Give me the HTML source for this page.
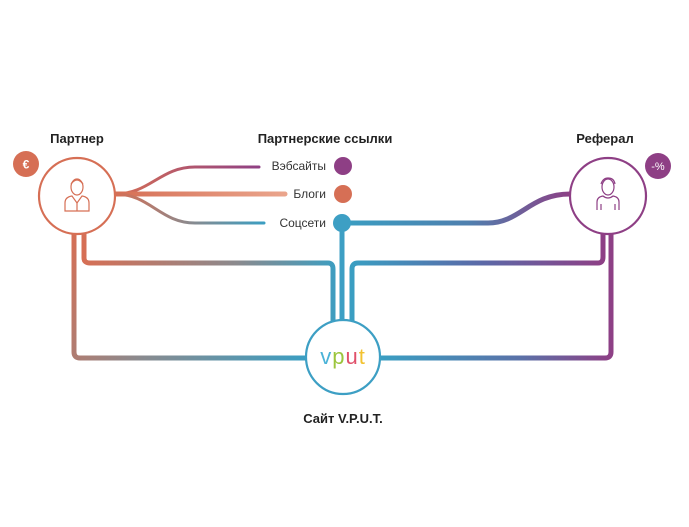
<!DOCTYPE html>
<html><head><meta charset="utf-8"><style>
html,body{margin:0;padding:0;background:#fff;}
svg{display:block;font-family:"Liberation Sans",sans-serif;}
</style></head><body>
<svg width="689" height="527" viewBox="0 0 689 527" xmlns="http://www.w3.org/2000/svg">
<defs>
<linearGradient id="gL" gradientUnits="userSpaceOnUse" x1="74" y1="230" x2="306" y2="358">
<stop offset="0" stop-color="#d66f55"/><stop offset="0.45" stop-color="#8a8a8e"/><stop offset="1" stop-color="#3a9ec2"/></linearGradient>
<linearGradient id="gLi" gradientUnits="userSpaceOnUse" x1="84" y1="0" x2="340" y2="0">
<stop offset="0" stop-color="#d66f55"/><stop offset="0.6" stop-color="#8a8a8e"/><stop offset="1" stop-color="#3a9ec2"/></linearGradient>
<linearGradient id="gR" gradientUnits="userSpaceOnUse" x1="380" y1="0" x2="612" y2="0">
<stop offset="0" stop-color="#3a9ec2"/><stop offset="0.6" stop-color="#5a72a8"/><stop offset="1" stop-color="#8e3f85"/></linearGradient>
<linearGradient id="gRi" gradientUnits="userSpaceOnUse" x1="352" y1="0" x2="605" y2="0">
<stop offset="0" stop-color="#3a9ec2"/><stop offset="0.5" stop-color="#5a6aa8"/><stop offset="1" stop-color="#8e3f85"/></linearGradient>
<linearGradient id="gS" gradientUnits="userSpaceOnUse" x1="343" y1="0" x2="572" y2="0">
<stop offset="0" stop-color="#3a9ec2"/><stop offset="0.55" stop-color="#4f7fae"/><stop offset="1" stop-color="#8e3f85"/></linearGradient>
<linearGradient id="gB1" gradientUnits="userSpaceOnUse" x1="115" y1="0" x2="262" y2="0">
<stop offset="0" stop-color="#d66f55"/><stop offset="1" stop-color="#8e3f85"/></linearGradient>
<linearGradient id="gB2" gradientUnits="userSpaceOnUse" x1="115" y1="0" x2="286" y2="0">
<stop offset="0" stop-color="#d66f55"/><stop offset="1" stop-color="#eaa58c"/></linearGradient>
<linearGradient id="gB3" gradientUnits="userSpaceOnUse" x1="115" y1="0" x2="265" y2="0">
<stop offset="0" stop-color="#d66f55"/><stop offset="0.5" stop-color="#8a8a8e"/><stop offset="1" stop-color="#3a9ec2"/></linearGradient>
</defs>
<g fill="none" stroke-linecap="round" stroke-linejoin="round">
<!-- left outer -->
<path d="M74 232 V352 Q74 358 80 358 H306" stroke="url(#gL)" stroke-width="5"/>
<!-- left inner -->
<path d="M84 232 V258 Q84 263 90 263 H328 Q333 263 333 269 V322" stroke="url(#gLi)" stroke-width="5"/>
<!-- social vertical -->
<path d="M342 222 V322" stroke="#3d9fc4" stroke-width="5"/>
<!-- right inner -->
<path d="M352 322 V269 Q352 263 358 263 H598 Q603 263 603 257 V232" stroke="url(#gRi)" stroke-width="5"/>
<!-- right outer -->
<path d="M380 358 H605 Q611 358 611 352 V232" stroke="url(#gR)" stroke-width="5"/>
<!-- social to referal -->
<path d="M343 223 H488 C520 223 530 194 570 194" stroke="url(#gS)" stroke-width="5"/>
<!-- branches -->
<path d="M115 194 C150 194 160 167 195 167 H259" stroke="url(#gB1)" stroke-width="3"/>
<path d="M115 194 H285" stroke="url(#gB2)" stroke-width="5"/>
<path d="M115 194 C150 194 160 223 195 223 H264" stroke="url(#gB3)" stroke-width="3"/>
</g>
<!-- partner -->
<circle cx="77" cy="196" r="38" fill="#fff" stroke="#d66f55" stroke-width="2.2"/>
<g fill="none" stroke="#d66f55" stroke-width="1.2">
<ellipse cx="77" cy="187" rx="6" ry="8"/>
<path d="M71 184 Q77 176 83 184"/>
<path d="M65 211 V203 Q65 197 72 196 L77 203 L82 196 Q89 197 89 203 V211 Z"/>
<path d="M77 203 V211"/>
</g>
<circle cx="26" cy="164" r="13" fill="#d66f55"/>
<text x="26" y="168.5" fill="#fff" font-size="12" font-weight="bold" text-anchor="middle">€</text>
<!-- referal -->
<circle cx="608" cy="196" r="38" fill="#fff" stroke="#8e3f85" stroke-width="2.2"/>
<g fill="none" stroke="#8e3f85" stroke-width="1.2">
<ellipse cx="608" cy="187" rx="6" ry="8"/>
<path d="M601 184 Q603 178 608 178 Q614 178 615 184"/>
<path d="M597 210 V202 Q597 197 603 196 Q608 200 613 196 Q619 197 619 202 V210"/>
<path d="M601 204 V210 M615 204 V210"/>
</g>
<circle cx="658" cy="166" r="13" fill="#8e3f85"/>
<text x="658" y="170" fill="#fff" font-size="11" text-anchor="middle">-%</text>
<!-- vput -->
<circle cx="343" cy="357" r="37" fill="#fff" stroke="#3d9fc4" stroke-width="2.2"/>
<text x="343" y="364" font-size="22" text-anchor="middle" letter-spacing="1"><tspan fill="#4ab3d8">v</tspan><tspan fill="#9bc53d">p</tspan><tspan fill="#e0506a">u</tspan><tspan fill="#f2c230">t</tspan></text>
<!-- legend dots -->
<circle cx="343" cy="166" r="9" fill="#8e3f85"/>
<circle cx="343" cy="194" r="9" fill="#d66f55"/>
<circle cx="342" cy="223" r="9" fill="#3d9fc4"/>
<g font-size="12" fill="#333" text-anchor="end">
<text x="326" y="170">Вэбсайты</text>
<text x="326" y="198">Блоги</text>
<text x="326" y="227">Соцсети</text>
</g>
<g font-size="13" font-weight="bold" fill="#222" text-anchor="middle">
<text x="77" y="143">Партнер</text>
<text x="325" y="143">Партнерские ссылки</text>
<text x="605" y="143">Реферал</text>
<text x="343" y="423">Сайт V.P.U.T.</text>
</g>
</svg>
</body></html>
